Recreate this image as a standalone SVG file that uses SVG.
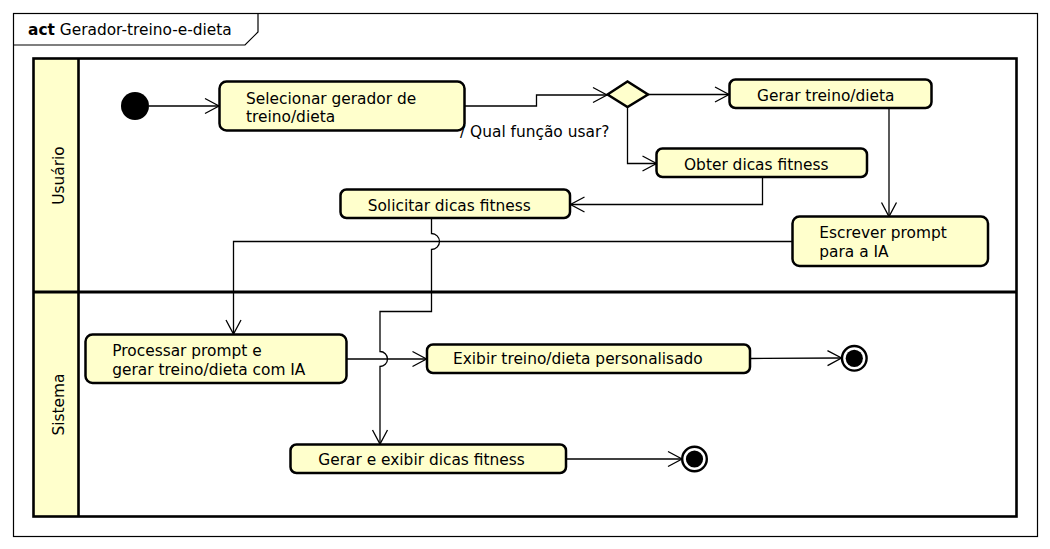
<svg xmlns="http://www.w3.org/2000/svg" width="1050" height="549" viewBox="0 0 1050 549">
<style>
  text { font-family: "DejaVu Sans", "Liberation Sans", sans-serif; font-size: 15.4px; fill: #000; }
  .act { fill: #FFFFCC; stroke: #000; stroke-width: 2.5; }
  .edge { fill: none; stroke: #000; stroke-width: 1.3; }
  .lane { fill: none; stroke: #000; stroke-width: 2.6; }
</style>
<defs>
  <marker id="arrow" markerUnits="userSpaceOnUse" markerWidth="20" markerHeight="20" viewBox="-16 -10 18 20" refX="0" refY="0" orient="auto">
    <path d="M-14,-7.5 L0,0 L-14,7.5" fill="none" stroke="#000" stroke-width="1.3"/>
  </marker>
</defs>
<rect x="0" y="0" width="1050" height="549" fill="#fff"/>

<!-- frame -->
<g id="frame">
  <rect x="13.5" y="13.5" width="1024" height="523" fill="none" stroke="#000" stroke-width="1.2"/>
  <path d="M13.5,45 H245 L258,32 V13.5" fill="none" stroke="#000" stroke-width="1.2"/>
  <text x="28" y="35"><tspan font-weight="bold">act</tspan> Gerador-treino-e-dieta</text>
</g>

<!-- swimlanes -->
<g id="lanes">
  <rect x="33.5" y="58.5" width="45" height="458" fill="#FFFFCC" stroke="none"/>
  <rect x="33.5" y="58.5" width="983" height="458" class="lane"/>
  <line x1="78.5" y1="58.5" x2="78.5" y2="516.5" class="lane"/>
  <line x1="33.5" y1="292" x2="1016.5" y2="292" stroke="#000" stroke-width="3"/>
  <text transform="translate(63.5,175.5) rotate(-90)" text-anchor="middle">Usuário</text>
  <text transform="translate(63.5,404.5) rotate(-90)" text-anchor="middle">Sistema</text>
</g>

<!-- connectors -->
<g id="connectors">
  <path class="edge" d="M149,106 H219" marker-end="url(#arrow)"/>
  <path class="edge" d="M464,106 H536.5 V95 H607" marker-end="url(#arrow)"/>
  <text x="460" y="137">/ Qual função usar?</text>
  <path class="edge" d="M648,94.5 H729" marker-end="url(#arrow)"/>
  <path class="edge" d="M627.5,107 V163.5 H656.5" marker-end="url(#arrow)"/>
  <path class="edge" d="M762.5,177.5 V204.5 H570.5" marker-end="url(#arrow)"/>
  <path class="edge" d="M889,108.5 V216.5" marker-end="url(#arrow)"/>
  <path class="edge" d="M792,241.5 H233.5 V334" marker-end="url(#arrow)"/>
  <path class="edge" d="M431.5,218.5 V233.5 A8,8 0 0 1 431.5,249.5 V311.5 H380 V351.5 A7.5,7.5 0 0 1 380,366.5 V444" marker-end="url(#arrow)"/>
  <path class="edge" d="M347,359 H426.5" marker-end="url(#arrow)"/>
  <path class="edge" d="M750.5,358.5 L841.5,358" marker-end="url(#arrow)"/>
  <path class="edge" d="M566,459 H682" marker-end="url(#arrow)"/>
</g>

<!-- nodes -->
<g id="initial">
  <circle cx="135" cy="106" r="14" fill="#000"/>
</g>

<g id="selecionar">
  <rect x="219.5" y="81.5" width="245" height="49" rx="7" class="act"/>
  <text x="246" y="103.5">Selecionar gerador de</text>
  <text x="246" y="122">treino/dieta</text>
</g>

<g id="decision">
  <polygon points="607.5,94.5 627.5,81.5 648,94.5 627.5,107" fill="#FFFFCC" stroke="#000" stroke-width="2.5"/>
</g>

<g id="gerar-treino">
  <rect x="729.5" y="79.5" width="202" height="28.5" rx="6" class="act"/>
  <text x="757" y="100.7">Gerar treino/dieta</text>
</g>

<g id="obter-dicas">
  <rect x="656.5" y="148.5" width="210.5" height="28.5" rx="6" class="act"/>
  <text x="684" y="169.8">Obter dicas fitness</text>
</g>

<g id="solicitar-dicas">
  <rect x="340.5" y="189.5" width="229.5" height="28.5" rx="6" class="act"/>
  <text x="367.7" y="211.4">Solicitar dicas fitness</text>
</g>

<g id="escrever-prompt">
  <rect x="792.5" y="216.5" width="195.5" height="49.5" rx="7" class="act"/>
  <text x="819.3" y="238.4">Escrever prompt</text>
  <text x="819.3" y="256.7">para a IA</text>
</g>

<g id="processar">
  <rect x="85.5" y="334.5" width="261" height="48.5" rx="7" class="act"/>
  <text x="112.3" y="356.3">Processar prompt e</text>
  <text x="112.3" y="375">gerar treino/dieta com IA</text>
</g>

<g id="exibir-treino">
  <rect x="427" y="344.5" width="323" height="28.5" rx="6" class="act"/>
  <text x="453" y="364.3">Exibir treino/dieta personalisado</text>
</g>

<g id="gerar-dicas">
  <rect x="290.5" y="444.5" width="275.5" height="28.5" rx="6" class="act"/>
  <text x="318.3" y="465">Gerar e exibir dicas fitness</text>
</g>

<g id="final1">
  <circle cx="854.3" cy="358.3" r="12.3" fill="#fff" stroke="#000" stroke-width="2.4"/>
  <circle cx="854.3" cy="358.3" r="8.6" fill="#000"/>
</g>

<g id="final2">
  <circle cx="694.5" cy="459" r="12.3" fill="#fff" stroke="#000" stroke-width="2.4"/>
  <circle cx="694.5" cy="459" r="8.6" fill="#000"/>
</g>
</svg>
